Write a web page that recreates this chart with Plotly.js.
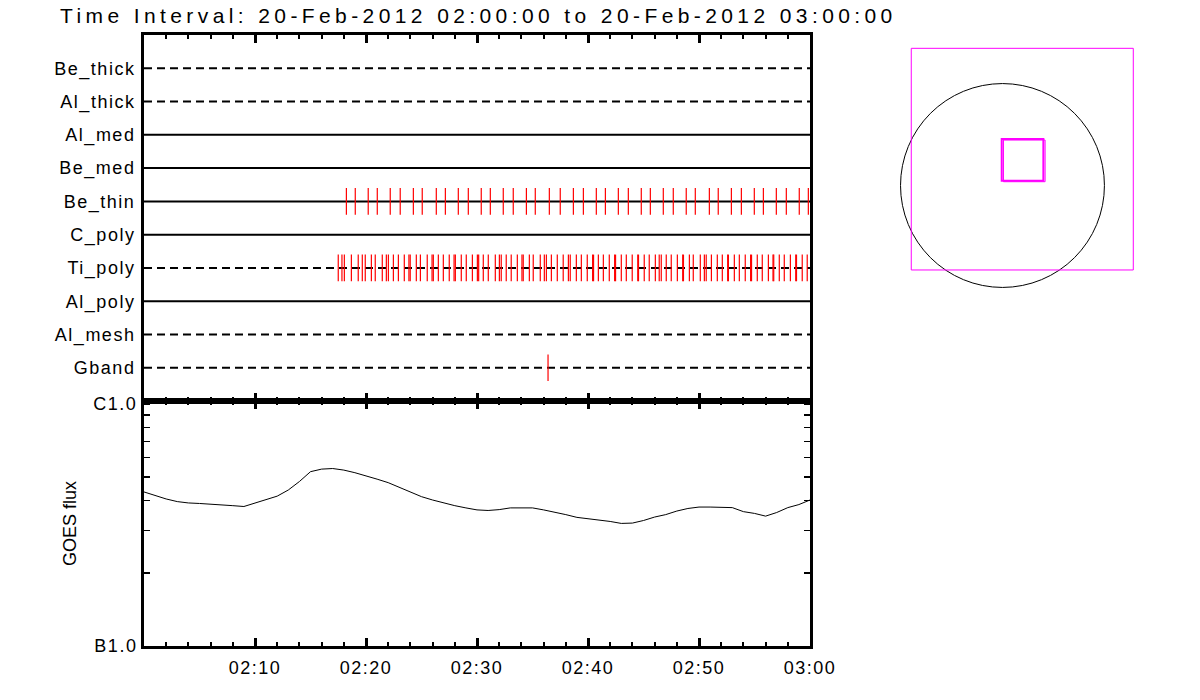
<!DOCTYPE html>
<html>
<head>
<meta charset="utf-8">
<script src="https://cdn.plot.ly/plotly-3.0.1.min.js"></script>
<style>
  html, body { margin: 0; padding: 0; background: #fff; }
  #chart { width: 1200px; height: 700px; }
  #chart .gtitle { letter-spacing: 4.4px; }
  #chart .xtick text, #chart .x2tick text, #chart .ytick text, #chart .y2tick text { letter-spacing: 1.5px; }
</style>
</head>
<body>
<div id="chart"></div>
<script>
// ---------------- data ----------------
const day = '2012-02-20';
const titleText = 'Time Interval: 20-Feb-2012 02:00:00 to 20-Feb-2012 03:00:00';

const rowNames = ['Be_thick', 'Al_thick', 'Al_med', 'Be_med', 'Be_thin', 'C_poly', 'Ti_poly', 'Al_poly', 'Al_mesh', 'Gband'];
const rowDashed = [true, true, false, false, false, false, true, false, true, true];

const beThinTimes = ['02:18:14', '02:19:02', '02:20:12', '02:21:01', '02:22:11', '02:23:05', '02:24:16', '02:25:04',
  '02:26:20', '02:27:09', '02:28:19', '02:29:13', '02:30:23', '02:31:12', '02:32:22', '02:33:16', '02:34:27',
  '02:35:15', '02:36:31', '02:37:30', '02:38:41', '02:39:35', '02:40:45', '02:41:34', '02:42:44', '02:43:38',
  '02:44:48', '02:45:37', '02:46:47', '02:47:41', '02:48:51', '02:49:40', '02:50:56', '02:51:44', '02:52:55',
  '02:53:49', '02:54:59', '02:55:48', '02:56:58', '02:57:52', '02:59:02', '02:59:51'];

const tiPolyTimes = ['02:17:30', '02:17:50', '02:18:03', '02:18:41', '02:19:18', '02:19:40', '02:19:56', '02:20:29',
  '02:20:50', '02:21:28', '02:21:50', '02:22:01', '02:22:28', '02:22:55', '02:23:27', '02:23:52', '02:23:59',
  '02:24:32', '02:24:54', '02:25:31', '02:25:57', '02:26:04', '02:26:31', '02:26:58', '02:27:30', '02:27:56',
  '02:28:03', '02:28:35', '02:29:02', '02:29:35', '02:30:02', '02:30:09', '02:30:34', '02:31:01', '02:31:39',
  '02:32:01', '02:32:11', '02:32:38', '02:33:05', '02:33:38', '02:34:03', '02:34:10', '02:34:43', '02:35:04',
  '02:35:42', '02:36:04', '02:36:15', '02:36:42', '02:37:14', '02:37:46', '02:38:14', '02:38:24', '02:38:57',
  '02:39:24', '02:39:56', '02:40:25', '02:40:30', '02:40:56', '02:41:23', '02:41:55', '02:42:24', '02:42:29',
  '02:43:00', '02:43:27', '02:43:59', '02:44:29', '02:44:33', '02:45:04', '02:45:31', '02:46:04', '02:46:25',
  '02:46:36', '02:47:03', '02:47:30', '02:48:03', '02:48:32', '02:48:36', '02:49:08', '02:49:29', '02:50:07',
  '02:50:29', '02:50:39', '02:51:07', '02:51:39', '02:52:06', '02:52:35', '02:52:39', '02:53:11', '02:53:38',
  '02:54:10', '02:54:39', '02:54:44', '02:55:15', '02:55:42', '02:56:15', '02:56:40', '02:56:44', '02:57:14',
  '02:57:41', '02:58:14', '02:58:43', '02:58:47', '02:59:18', '02:59:45'];

const gbandTimes = ['02:36:24'];

const timeTickVals = ['02:10', '02:20', '02:30', '02:40', '02:50', '03:00'];

const goesTimes = ['02:00', '02:01', '02:02', '02:03', '02:04', '02:05', '02:06', '02:07', '02:08', '02:09',
  '02:10', '02:11', '02:12', '02:13', '02:14', '02:15', '02:16', '02:17', '02:18', '02:19',
  '02:20', '02:21', '02:22', '02:23', '02:24', '02:25', '02:26', '02:27', '02:28', '02:29',
  '02:30', '02:31', '02:32', '02:33', '02:34', '02:35', '02:36', '02:37', '02:38', '02:39',
  '02:40', '02:41', '02:42', '02:43', '02:44', '02:45', '02:46', '02:47', '02:48', '02:49',
  '02:50', '02:51', '02:52', '02:53', '02:54', '02:55', '02:56', '02:57', '02:58', '02:59', '03:00'];
const goesFlux = [4.33e-7, 4.18e-7, 4.05e-7, 3.95e-7, 3.90e-7, 3.88e-7, 3.86e-7, 3.84e-7, 3.80e-7, 3.77e-7,
  3.90e-7, 4.01e-7, 4.16e-7, 4.41e-7, 4.78e-7, 5.25e-7, 5.38e-7, 5.41e-7, 5.33e-7, 5.20e-7,
  5.06e-7, 4.89e-7, 4.73e-7, 4.53e-7, 4.34e-7, 4.14e-7, 4.01e-7, 3.90e-7, 3.80e-7, 3.72e-7,
  3.65e-7, 3.63e-7, 3.66e-7, 3.72e-7, 3.73e-7, 3.72e-7, 3.65e-7, 3.58e-7, 3.49e-7, 3.40e-7,
  3.36e-7, 3.32e-7, 3.27e-7, 3.21e-7, 3.22e-7, 3.30e-7, 3.41e-7, 3.49e-7, 3.61e-7, 3.70e-7,
  3.75e-7, 3.75e-7, 3.75e-7, 3.73e-7, 3.59e-7, 3.53e-7, 3.44e-7, 3.56e-7, 3.73e-7, 3.84e-7, 4.01e-7];

const fluxTickVals = [1e-7, 1e-6];
const fluxTickText = ['B1.0', 'C1.0'];
const fluxMinorVals = [2e-7, 3e-7, 4e-7, 5e-7, 6e-7, 7e-7, 8e-7, 9e-7];

// pointing plot (arcsec)
const sunRadius = 940;
const fovBox = { x0: -841, x1: 1206, y0: -779, y1: 1265 };
const subFields = [
  { x0: -7, x1: 377, y0: 44, y1: 428 },
  { x0: 9, x1: 393, y0: 35, y1: 419 }
];

// ---------------- build ----------------
const T = t => day + ' ' + t;
const xStart = T('02:00:00'), xEnd = T('03:00:00');
const traces = [];

rowNames.forEach((name, i) => {
  traces.push({
    x: [xStart, xEnd], y: [i + 1, i + 1], xaxis: 'x', yaxis: 'y',
    mode: 'lines', hoverinfo: 'skip', showlegend: false,
    line: { color: '#000', width: 2, dash: rowDashed[i] ? '8px,5px' : 'solid' }
  });
});

function eventTrace(times, rowName) {
  const r = rowNames.indexOf(rowName) + 1;
  const xs = [], ys = [];
  times.forEach(t => { xs.push(T(t), T(t), null); ys.push(r - 0.4, r + 0.4, null); });
  return { x: xs, y: ys, xaxis: 'x', yaxis: 'y', mode: 'lines', showlegend: false, hoverinfo: 'skip',
           line: { color: '#ff0000', width: 1.2 } };
}
traces.push(eventTrace(beThinTimes, 'Be_thin'));
traces.push(eventTrace(tiPolyTimes, 'Ti_poly'));
traces.push(eventTrace(gbandTimes, 'Gband'));

traces.push({
  x: goesTimes.map(T), y: goesFlux, xaxis: 'x2', yaxis: 'y2', mode: 'lines', showlegend: false,
  line: { color: '#000', width: 1 }
});

// invisible anchor trace for the pointing panel
traces.push({ x: [0], y: [0], xaxis: 'x3', yaxis: 'y3', mode: 'markers', marker: { opacity: 0 }, showlegend: false, hoverinfo: 'skip' });

const font = { family: 'Liberation Sans, Arial, sans-serif', color: '#000', size: 18 };
const timeAxisBase = {
  type: 'date', range: [xStart, xEnd], domain: [0.12, 0.675],
  showline: true, linewidth: 3, linecolor: '#000', mirror: 'ticks',
  ticks: 'inside', ticklen: 8, tickwidth: 3, tickcolor: '#000',
  tickmode: 'array', tickvals: timeTickVals.map(T), ticktext: timeTickVals,
  minor: { tickmode: 'linear', tick0: xStart, dtick: 120000, ticks: 'inside', ticklen: 4, tickwidth: 2, tickcolor: '#000' },
  showgrid: false, zeroline: false, fixedrange: true, tickfont: font
};

const shapes = [];
shapes.push({ type: 'circle', xref: 'x3', yref: 'y3', x0: -sunRadius, x1: sunRadius, y0: -sunRadius, y1: sunRadius,
  line: { color: '#000', width: 1 } });
shapes.push({ type: 'rect', xref: 'x3', yref: 'y3', x0: fovBox.x0, x1: fovBox.x1, y0: fovBox.y0, y1: fovBox.y1,
  line: { color: '#ff00ff', width: 1 } });
subFields.forEach((b, i) => shapes.push({ type: 'rect', xref: 'x3', yref: 'y3', x0: b.x0, x1: b.x1, y0: b.y0, y1: b.y1,
  line: { color: '#ff00ff', width: i === 0 ? 2 : 1 } }));

const layout = {
  width: 1200, height: 700,
  margin: { l: 0, r: 0, t: 0, b: 0 },
  paper_bgcolor: '#fff', plot_bgcolor: 'rgba(0,0,0,0)',
  font: font, showlegend: false,
  title: { text: titleText, x: 0.05, xref: 'container', xanchor: 'left', y: 0.977, yref: 'container', yanchor: 'middle',
           font: { family: font.family, size: 21, color: '#000' } },
  xaxis: Object.assign({}, timeAxisBase, { anchor: 'y', showticklabels: false }),
  yaxis: {
    domain: [0.4271, 0.95], anchor: 'x', range: [11, 0],
    tickvals: rowNames.map((n, i) => i + 1), ticktext: rowNames,
    ticks: '', showline: true, linewidth: 3, linecolor: '#000', mirror: true,
    showgrid: false, zeroline: false, fixedrange: true, tickfont: font, ticklabelstandoff: 2
  },
  xaxis2: Object.assign({}, timeAxisBase, { anchor: 'y2', ticklabelstandoff: 3 }),
  yaxis2: {
    type: 'log', domain: [0.0771, 0.4271], anchor: 'x2', range: [-7, -5.988],
    tickvals: fluxTickVals, ticktext: fluxTickText,
    ticks: 'inside', ticklen: 6, tickwidth: 1.5, tickcolor: '#000',
    minor: { tickvals: fluxMinorVals, ticks: 'inside', ticklen: 6, tickwidth: 1.5, tickcolor: '#000' },
    showline: true, linewidth: 3, linecolor: '#000', mirror: 'ticks',
    showgrid: false, zeroline: false, fixedrange: true, tickfont: font,
    title: { text: 'GOES flux', font: { family: font.family, size: 18, color: '#000' }, standoff: 19 }
  },
  xaxis3: { domain: [0.74167, 0.95417], anchor: 'y3', range: [-1037, 1314], visible: false, fixedrange: true },
  yaxis3: { domain: [0.5714, 0.9429], anchor: 'x3', range: [-1056, 1342], visible: false, fixedrange: true },
  shapes: shapes
};

Plotly.newPlot('chart', traces, layout, { staticPlot: true, displayModeBar: false });
</script>
</body>
</html>
